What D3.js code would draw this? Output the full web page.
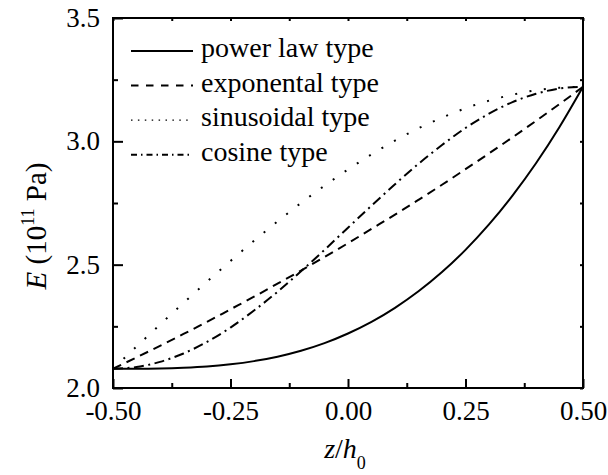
<!DOCTYPE html>
<html>
<head>
<meta charset="utf-8">
<script src="https://cdn.jsdelivr.net/npm/d3@7"></script>
<style>
  body { margin: 0; background: #fff; }
  svg { display: block; }
  text { font-family: "Liberation Serif", "Times New Roman", serif; fill: #000; }
</style>
</head>
<body>
<div id="chart"></div>
<script>
// z/h0 positions
var zValues = [-0.50, -0.45, -0.40, -0.35, -0.30, -0.25, -0.20, -0.15, -0.10, -0.05, 0.00,
               0.05, 0.10, 0.15, 0.20, 0.25, 0.30, 0.35, 0.40, 0.45, 0.50];
// E (10^11 Pa)
var powerLaw = [2.078, 2.078, 2.079, 2.082, 2.087, 2.096, 2.109, 2.127, 2.151, 2.182, 2.221,
                2.268, 2.325, 2.392, 2.470, 2.560, 2.663, 2.780, 2.911, 3.058, 3.221];
var exponental = [2.078, 2.124, 2.171, 2.219, 2.268, 2.319, 2.370, 2.423, 2.476, 2.531, 2.587,
                  2.645, 2.703, 2.763, 2.824, 2.887, 2.951, 3.016, 3.083, 3.151, 3.221];
var sinusoidal = [2.078, 2.168, 2.257, 2.345, 2.431, 2.515, 2.597, 2.675, 2.750, 2.820, 2.886,
                  2.947, 3.003, 3.053, 3.096, 3.134, 3.165, 3.189, 3.207, 3.217, 3.221];
var cosine = [2.078, 2.085, 2.106, 2.140, 2.187, 2.245, 2.314, 2.390, 2.473, 2.560, 2.650,
              2.739, 2.826, 2.909, 2.985, 3.054, 3.112, 3.159, 3.193, 3.214, 3.221];

var seriesNames = ["power law type", "exponental type", "sinusoidal type", "cosine type"];
var xTicks = [-0.50, -0.25, 0.00, 0.25, 0.50];
var xMinor = [-0.375, -0.125, 0.125, 0.375];
var yTicks = [2.0, 2.5, 3.0, 3.5];
var yMinor = [2.25, 2.75, 3.25];

var width = 608, height = 475;
var margin = {left: 113, top: 18, right: 25, bottom: 87};
var plotW = width - margin.left - margin.right;
var plotH = height - margin.top - margin.bottom;

var svg = d3.select("#chart").append("svg")
    .attr("width", width).attr("height", height);

var x = d3.scaleLinear().domain([-0.5, 0.5]).range([margin.left, margin.left + plotW]);
var y = d3.scaleLinear().domain([2.0, 3.5]).range([margin.top + plotH, margin.top]);

var styles = [
  {dash: null, w: 2, legendDash: null},
  {dash: "9,6", w: 2, legendDash: "7.5,7.5"},
  {dash: "2,12.5", w: 2, legendDash: "1.5,5.4"},
  {dash: "10,4.5,2,4.5", w: 2, legendDash: "6,4,1.5,4"}
];
var allSeries = [powerLaw, exponental, sinusoidal, cosine];

var line = d3.line()
    .x(function(d, i) { return x(zValues[i]); })
    .y(function(d) { return y(d); })
    .curve(d3.curveMonotoneX);

svg.append("g").selectAll("path").data(allSeries).enter().append("path")
    .attr("d", line)
    .attr("fill", "none")
    .attr("stroke", "#000")
    .attr("stroke-width", function(d, i) { return styles[i].w; })
    .attr("stroke-dasharray", function(d, i) { return styles[i].dash; });

// hyphen instead of unicode minus, like the original
function fmt(p) {
  var f = d3.format("." + p + "f");
  return function(d) { return f(d).replace("\u2212", "-"); };
}

function styleAxis(g) {
  g.attr("font-family", null).attr("font-size", null);
  g.select(".domain").remove();
  g.selectAll(".tick line").attr("stroke", "#000").attr("stroke-width", 2);
  g.selectAll(".tick text").style("font-size", "27px").attr("fill", "#000");
}

var bottomY = margin.top + plotH;
svg.append("g").attr("transform", "translate(0," + bottomY + ")")
    .call(d3.axisBottom(x).tickValues(xTicks).tickSize(-9).tickFormat(fmt(2)))
    .call(styleAxis)
    .selectAll(".tick text").attr("y", 13).attr("dy", "0.71em");
svg.append("g").attr("transform", "translate(0," + bottomY + ")")
    .call(d3.axisBottom(x).tickValues(xMinor).tickSize(-5).tickFormat(""))
    .call(styleAxis);

svg.append("g").attr("transform", "translate(" + margin.left + ",0)")
    .call(d3.axisLeft(y).tickValues(yTicks).tickSize(-10).tickFormat(fmt(1)))
    .call(styleAxis)
    .selectAll(".tick text").attr("x", -13);
svg.append("g").attr("transform", "translate(" + margin.left + ",0)")
    .call(d3.axisLeft(y).tickValues(yMinor).tickSize(-5).tickFormat(""))
    .call(styleAxis);

svg.append("g").attr("transform", "translate(0," + margin.top + ")")
    .call(d3.axisTop(x).tickValues(xTicks.concat(xMinor)).tickSize(-3).tickFormat(""))
    .call(styleAxis);
svg.append("g").attr("transform", "translate(" + (margin.left + plotW) + ",0)")
    .call(d3.axisRight(y).tickValues(yTicks.concat(yMinor)).tickSize(-3).tickFormat(""))
    .call(styleAxis);

svg.append("rect")
    .attr("x", margin.left).attr("y", margin.top)
    .attr("width", plotW).attr("height", plotH)
    .attr("fill", "none").attr("stroke", "#000").attr("stroke-width", 2);

// legend
var legend = svg.append("g");
seriesNames.forEach(function(name, i) {
  var ly = 51 + i * 34.6;
  legend.append("line")
      .attr("x1", 131).attr("x2", 193).attr("y1", ly).attr("y2", ly)
      .attr("stroke", "#000").attr("stroke-width", i === 2 ? 1.3 : 2)
      .attr("stroke-dasharray", styles[i].legendDash);
  legend.append("text")
      .attr("x", 201).attr("y", ly + 6)
      .style("font-size", "28px")
      .text(name);
});

// axis titles
var xt = svg.append("text")
    .attr("x", x(0) - 3).attr("y", 458)
    .attr("text-anchor", "middle")
    .style("font-size", "28px");
xt.append("tspan").style("font-style", "italic").text("z");
xt.append("tspan").text("/");
xt.append("tspan").style("font-style", "italic").text("h");
xt.append("tspan").attr("dy", 11).style("font-size", "18px").text("0");

var yt = svg.append("text")
    .attr("transform", "translate(46," + 226 + ") rotate(-90)")
    .attr("text-anchor", "middle")
    .style("font-size", "29px");
yt.append("tspan").style("font-style", "italic").text("E");
yt.append("tspan").text(" (10");
yt.append("tspan").attr("dy", -12).style("font-size", "18px").text("11");
yt.append("tspan").attr("dy", 12).text(" Pa)");
</script>
</body>
</html>
